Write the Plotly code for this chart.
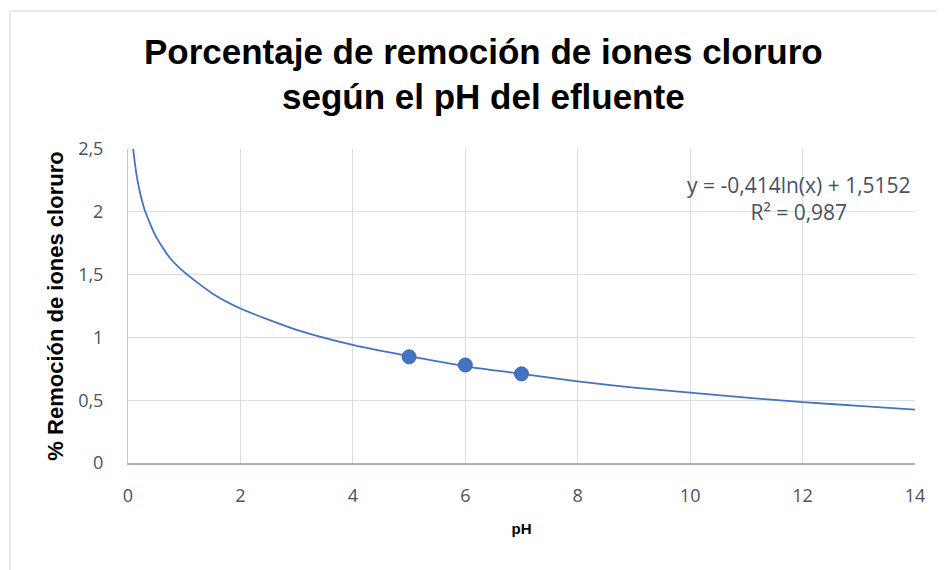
import plotly.graph_objects as go

# Datos medidos
ph_medido = [5, 6, 7]
remocion_medida = [0.845, 0.78, 0.71]

# Línea de tendencia logarítmica
ph_tendencia = [0.08, 0.1, 0.15, 0.2, 0.3, 0.5, 0.75, 1, 1.5, 2, 3, 4, 5, 6, 7, 8, 9, 10, 11, 12, 13, 14]
remocion_tendencia = [2.56, 2.47, 2.30, 2.18, 2.01, 1.80, 1.63, 1.52, 1.35, 1.23, 1.06, 0.94, 0.85,
                      0.77, 0.71, 0.65, 0.60, 0.56, 0.52, 0.485, 0.455, 0.425]

x_ticks = [0, 2, 4, 6, 8, 10, 12, 14]
y_ticks = [0, 0.5, 1, 1.5, 2, 2.5]
y_labels = ["0", "0,5", "1", "1,5", "2", "2,5"]

AZUL = "#4472C4"
GRIS_TXT = "#475266"

fig = go.Figure()
fig.add_trace(go.Scatter(
    x=ph_tendencia, y=remocion_tendencia, mode="lines",
    line=dict(color=AZUL, width=1.8, shape="spline", smoothing=0.6),
    hoverinfo="skip",
))
fig.add_trace(go.Scatter(
    x=ph_medido, y=remocion_medida, mode="markers",
    marker=dict(color=AZUL, size=14, line=dict(color="#3b66b5", width=1)),
))

# la página desplaza la figura 8px (margen del body), se compensa aquí
fig.update_layout(
    width=945, height=570,
    template="plotly_white",
    showlegend=False,
    paper_bgcolor="white", plot_bgcolor="white",
    margin=dict(l=120, r=38, t=141, b=115),
    font=dict(family="Open Sans, sans-serif", color=GRIS_TXT, size=18),
    title=dict(
        text="Porcentaje de remoción de iones cloruro<br>según el pH del efluente",
        x=0.503, xanchor="center", y=0.902, yanchor="top",
        font=dict(family="Liberation Sans, Arial, sans-serif", size=35, color="black", weight="bold"),
    ),
    annotations=[dict(
        text="y = -0,414ln(x) + 1,5152<br>R² = 0,987",
        xref="paper", yref="paper", x=0.997, y=0.935, xanchor="right", yanchor="top",
        align="center", showarrow=False,
        font=dict(family="Open Sans, sans-serif", size=21, color=GRIS_TXT),
    )],
    shapes=[dict(
        type="rect", xref="paper", yref="paper",
        x0=-0.15, x1=1.1, y0=-0.5, y1=1.4395,
        line=dict(color="#dfe2e8", width=1.5), fillcolor="rgba(0,0,0,0)", layer="below",
    )],
)

fig.update_xaxes(
    range=[0, 14], tickvals=x_ticks, showgrid=True, gridcolor="#d9dde4", gridwidth=1,
    zeroline=False, showline=True, linecolor="#a9b1c0", linewidth=1.5,
    ticks="", ticklabelstandoff=16,
    title=dict(text="pH", standoff=17,
               font=dict(family="Liberation Sans, Arial, sans-serif", size=15, color="black", weight="bold")),
)
fig.update_yaxes(
    range=[0, 2.5], tickvals=y_ticks, ticktext=y_labels, showgrid=True, gridcolor="#d9dde4", gridwidth=1,
    zeroline=False, showline=True, linecolor="#c5cbd6", linewidth=1,
    ticks="", ticklabelstandoff=20,
    title=dict(text="% Remoción de iones cloruro", standoff=8,
               font=dict(family="Liberation Sans, Arial, sans-serif", size=22, color="black", weight="bold")),
)

fig.write_html("out.html")
